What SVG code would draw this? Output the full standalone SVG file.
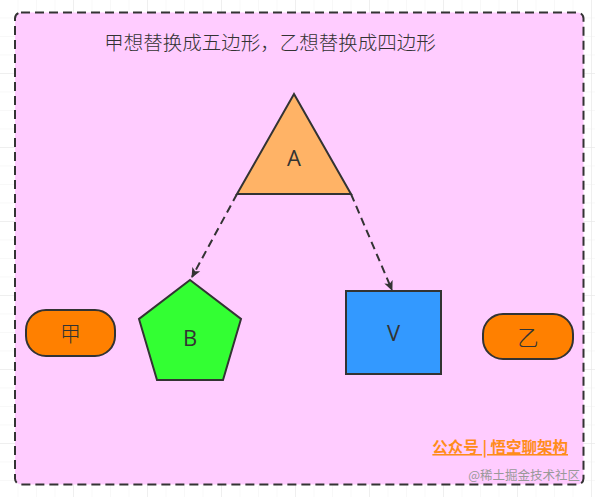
<svg xmlns="http://www.w3.org/2000/svg" width="595" height="497" viewBox="0 0 595 497">
<style>
.shape{stroke:#333333;stroke-width:2;stroke-linejoin:miter}
.lbl{font-family:"Open Sans","Noto Sans","Noto Sans CJK SC",sans-serif;font-size:22px;fill:#333333;text-anchor:middle}
.cjk{font-family:"Noto Sans CJK SC",sans-serif;font-weight:300;fill:#333333;text-anchor:middle}
.conn{fill:none;stroke:#333333;stroke-width:2;stroke-dasharray:8 5}
</style>
<defs>
<pattern id="minor" width="18.5" height="18.5" patternUnits="userSpaceOnUse">
<path d="M18.5 0V18.5M0 18.5H18.5" fill="none" stroke="#f2f2f2" stroke-width="1"/>
</pattern>
<pattern id="grid" width="74" height="74" patternUnits="userSpaceOnUse">
<rect width="74" height="74" fill="url(#minor)"/>
<path d="M74 0V74M0 74H74" fill="none" stroke="#e6e6e6" stroke-width="1"/>
</pattern>
<marker id="arr" markerWidth="10" markerHeight="10" refX="9" refY="5" orient="auto" markerUnits="userSpaceOnUse">
<path d="M0 0.5L10 5L0 9.5L2.5 5Z" fill="#333333"/>
</marker>
</defs>
<rect width="595" height="497" fill="#ffffff"/>
<rect width="595" height="497" fill="url(#grid)"/>
<g id="container">
<rect x="15" y="12.5" width="568.5" height="472" rx="6" fill="#FFCCFF" stroke="#333333" stroke-width="2" stroke-dasharray="9 5"/>
<text class="cjk" x="270" y="50" font-size="19.5">甲想替换成五边形，乙想替换成四边形</text>
</g>
<g id="connectors">
<path class="conn" d="M237 194L192 277" marker-end="url(#arr)"/>
<path class="conn" d="M351 194L392 290" marker-end="url(#arr)"/>
</g>
<g id="A">
<polygon class="shape" points="294,94 351,194 237,194" fill="#FFB366"/>
<text class="lbl" x="294" y="166">A</text>
</g>
<g id="B">
<polygon class="shape" points="190,280 241,319 223,380 157,380 139,319" fill="#33FF33"/>
<text class="lbl" x="190" y="346">B</text>
</g>
<g id="V">
<rect class="shape" x="346" y="291" width="95" height="83" fill="#3399FF"/>
<text class="lbl" x="393.5" y="341">V</text>
</g>
<g id="jia">
<rect class="shape" x="26" y="310" width="89" height="46" rx="20" fill="#FF8000"/>
<text class="cjk" x="70.5" y="341" font-size="21">甲</text>
</g>
<g id="yi">
<rect class="shape" x="483" y="314" width="90" height="45" rx="20" fill="#FF8000"/>
<text class="cjk" x="528" y="345" font-size="21">乙</text>
</g>
<g id="watermark">
<text x="568" y="453" font-family="Noto Sans CJK SC,sans-serif" font-size="15.5" font-weight="bold" fill="#FF8C1A" text-anchor="end" text-decoration="underline">公众号 | 悟空聊架构</text>
<text x="580" y="480" font-family="Noto Sans CJK SC,sans-serif" font-size="12.5" fill="#999999" text-anchor="end">@稀土掘金技术社区</text>
</g>
</svg>
